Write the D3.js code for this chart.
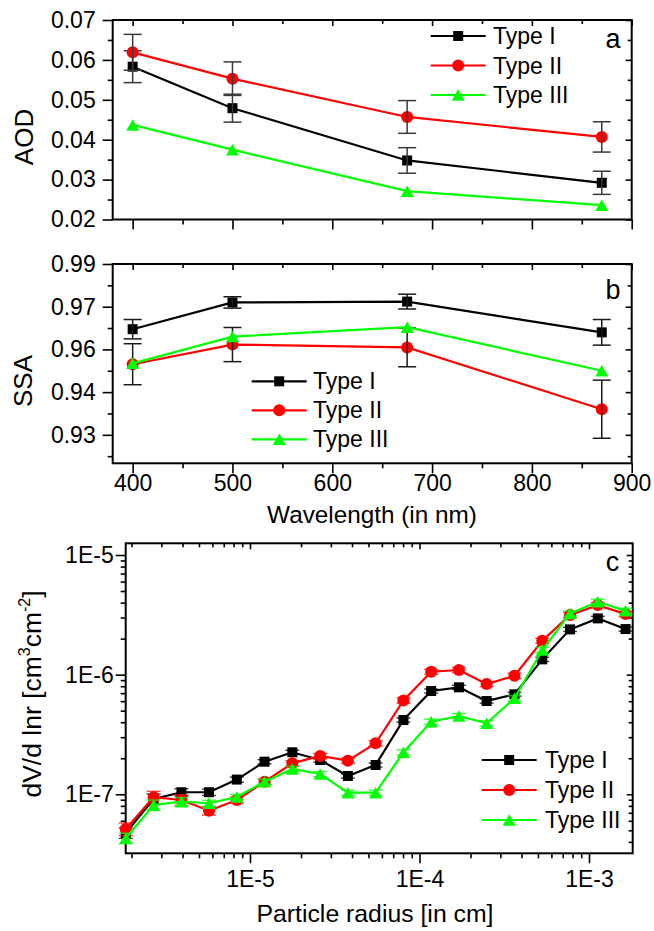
<!DOCTYPE html>
<html><head><meta charset="utf-8">
<script src="https://cdn.jsdelivr.net/npm/d3@7"></script>
<style>
body{margin:0;background:#fff}
svg{display:block}
text{font-family:"Liberation Sans",Arial,Helvetica,sans-serif;fill:#000}
</style>
</head><body>
<svg id="chart" width="654" height="931"></svg>
<script>
// ---------------- DATA ----------------
const seriesNames = ["Type I", "Type II", "Type III"];
const seriesColors = ["#000000", "#ff0000", "#00ff00"];
const seriesShapes = ["square", "circle", "triangle"];

const wavelengths = [400, 500, 675, 870];

const aodTypeI   = [0.0583, 0.0479, 0.0348, 0.0292];
const aodTypeII  = [0.0619, 0.0553, 0.0457, 0.0407];
const aodTypeIII = [0.0437, 0.0375, 0.0271, 0.0236];
const aodErrI    = [0.0040, 0.0035, 0.0032, 0.0029];
const aodErrII   = [0.0045, 0.0042, 0.0041, 0.0038];
const aodErrIII  = [0, 0, 0, 0];

const ssaTypeI   = [0.9671, 0.9765, 0.9768, 0.9660];
const ssaTypeII  = [0.9548, 0.9617, 0.9607, 0.9390];
const ssaTypeIII = [0.9551, 0.9645, 0.9678, 0.9525];
const ssaErrI    = [0.0034, 0.0020, 0.0026, 0.0045];
const ssaErrII   = [0.0072, 0.0060, 0.0068, 0.0102];
const ssaErrIII  = [0, 0, 0, 0];

const radius = [1.85e-6, 2.70e-6, 3.94e-6, 5.73e-6, 8.36e-6, 1.219e-5, 1.778e-5, 2.594e-5, 3.78e-5, 5.51e-5,
                8.04e-5, 1.172e-4, 1.709e-4, 2.49e-4, 3.634e-4, 5.30e-4, 7.73e-4, 1.127e-3, 1.643e-3];
const dvTypeI   = [4.75e-8, 9.13e-8, 1.04e-7, 1.04e-7, 1.327e-7, 1.872e-7, 2.243e-7, 1.934e-7, 1.422e-7, 1.757e-7,
                   4.175e-7, 7.295e-7, 7.834e-7, 6.018e-7, 6.845e-7, 1.342e-6, 2.39e-6, 2.953e-6, 2.404e-6];
const dvTypeII  = [5.13e-8, 9.44e-8, 8.96e-8, 7.29e-8, 8.96e-8, 1.274e-7, 1.815e-7, 2.089e-7, 1.909e-7, 2.668e-7,
                   6.09e-7, 1.057e-6, 1.093e-6, 8.35e-7, 9.79e-7, 1.92e-6, 3.147e-6, 3.814e-6, 3.208e-6];
const dvTypeIII = [4.29e-8, 8.14e-8, 8.67e-8, 8.41e-8, 9.49e-8, 1.274e-7, 1.627e-7, 1.477e-7, 1.031e-7, 1.031e-7,
                   2.243e-7, 4.04e-7, 4.51e-7, 3.92e-7, 6.34e-7, 1.606e-6, 3.25e-6, 4.06e-6, 3.418e-6];
// relative (fractional) error of the size distribution
const dvErrI   = [0.10, 0.10, 0.07, 0.06, 0.05, 0.04, 0.04, 0.04, 0.04, 0.04, 0.04, 0.04, 0.04, 0.04, 0.04, 0.04, 0.04, 0.04, 0.04];
const dvErrII  = [0.12, 0.12, 0.10, 0.08, 0.06, 0.05, 0.05, 0.05, 0.05, 0.05, 0.05, 0.05, 0.05, 0.05, 0.05, 0.05, 0.05, 0.05, 0.05];
const dvErrIII = [0.10, 0.10, 0.08, 0.06, 0.05, 0.05, 0.05, 0.05, 0.05, 0.05, 0.05, 0.05, 0.05, 0.05, 0.05, 0.05, 0.05, 0.05, 0.05];

const wlTicks = [400, 500, 600, 700, 800, 900];
const wlMinor = [450, 550, 650, 750, 850];
const aodTicks = [0.02, 0.03, 0.04, 0.05, 0.06, 0.07];
const aodMinor = [0.025, 0.035, 0.045, 0.055, 0.065];
const ssaTicks = [0.93, 0.945, 0.96, 0.975, 0.99];
const ssaTickLabels = ["0.93", "0.94", "0.96", "0.97", "0.99"];
const ssaMinor = [0.9225, 0.9375, 0.9525, 0.9675, 0.9825];
const radTicks = [1e-5, 1e-4, 1e-3];
const radTickLabels = ["1E-5", "1E-4", "1E-3"];
const dvTicks = [1e-7, 1e-6, 1e-5];
const dvTickLabels = ["1E-7", "1E-6", "1E-5"];

// ---------------- DRAW ----------------
const svg = d3.select("#chart");
const FONT = 23;

function minorLog(domain) {
  const out = [];
  const lo = Math.floor(Math.log10(domain[0])), hi = Math.ceil(Math.log10(domain[1]));
  for (let e = lo; e <= hi; e++) for (let m = 2; m <= 9; m++) {
    const v = m * Math.pow(10, e);
    if (v >= domain[0] && v <= domain[1]) out.push(v);
  }
  return out;
}

function drawFrame(x, y, o) {
  const [xl, xr] = x.range();
  const [yb, yt] = y.range();
  const g = svg.append("g");
  const style = sel => { sel.select(".domain").remove(); sel.selectAll("line").attr("stroke", "#000").attr("stroke-width", 1.6); };
  const b = g.append("g").attr("transform", `translate(0,${yb})`)
    .call(d3.axisBottom(x).tickValues(o.xMajor).tickSize(10).tickPadding(o.xPad)
      .tickFormat(o.xLabels ? ((d, i) => o.xLabels[i]) : () => ""));
  style(b);
  b.selectAll("text").attr("font-size", FONT).attr("font-family", "Liberation Sans, Arial, sans-serif").attr("fill", "#000");
  const bm = g.append("g").attr("transform", `translate(0,${yb})`)
    .call(d3.axisBottom(x).tickValues(o.xMinor).tickSize(5).tickFormat(() => ""));
  style(bm);
  const t = g.append("g").attr("transform", `translate(0,${yt})`)
    .call(d3.axisTop(x).tickValues(o.xMajor).tickSize(-6).tickFormat(() => ""));
  style(t);
  const tm = g.append("g").attr("transform", `translate(0,${yt})`)
    .call(d3.axisTop(x).tickValues(o.xMinor).tickSize(-4).tickFormat(() => ""));
  style(tm);
  const l = g.append("g").attr("transform", `translate(${xl},0)`)
    .call(d3.axisLeft(y).tickValues(o.yMajor).tickSize(10).tickPadding(o.yPad)
      .tickFormat((d, i) => o.yLabels[i]));
  style(l);
  l.selectAll("text").attr("font-size", FONT).attr("font-family", "Liberation Sans, Arial, sans-serif").attr("fill", "#000");
  const lm = g.append("g").attr("transform", `translate(${xl},0)`)
    .call(d3.axisLeft(y).tickValues(o.yMinor).tickSize(5).tickFormat(() => ""));
  style(lm);
  const r = g.append("g").attr("transform", `translate(${xr},0)`)
    .call(d3.axisRight(y).tickValues(o.yMajor).tickSize(-6).tickFormat(() => ""));
  style(r);
  const rm = g.append("g").attr("transform", `translate(${xr},0)`)
    .call(d3.axisRight(y).tickValues(o.yMinor).tickSize(-4).tickFormat(() => ""));
  style(rm);
  g.append("rect").attr("x", xl).attr("y", yt).attr("width", xr - xl).attr("height", yb - yt)
    .attr("fill", "none").attr("stroke", "#000").attr("stroke-width", 2);
}

function marker(g, shape, cx, cy, color, s) {
  if (shape === "square") {
    g.append("rect").attr("x", cx - s / 2).attr("y", cy - s / 2).attr("width", s).attr("height", s).attr("fill", color);
  } else if (shape === "circle") {
    g.append("circle").attr("cx", cx).attr("cy", cy).attr("r", s * 0.6).attr("fill", color);
  } else {
    const w = s * 1.3, h = s * 1.15;
    g.append("path").attr("d", `M${cx},${cy - h / 2}L${cx + w / 2},${cy + h / 2}L${cx - w / 2},${cy + h / 2}Z`).attr("fill", color);
  }
}

function drawSeries(x, y, xs, ys, errs, k, o) {
  const g = svg.append("g");
  const line = d3.line().x((d, i) => x(xs[i])).y(d => y(d));
  g.append("path").attr("d", line(ys)).attr("fill", "none").attr("stroke", seriesColors[k]).attr("stroke-width", 2.2);
  ys.forEach((v, i) => marker(g, seriesShapes[k], x(xs[i]), y(v), seriesColors[k], o.ms));
  ys.forEach((v, i) => {
    const e = errs[i];
    if (!e) return;
    const lo = o.rel ? v * (1 - e) : v - e;
    const hi = o.rel ? v * (1 + e) : v + e;
    const cx = x(xs[i]);
    const col = o.errColor || seriesColors[k];
    g.append("line").attr("x1", cx).attr("x2", cx).attr("y1", y(lo)).attr("y2", y(hi))
      .attr("stroke", col).attr("stroke-width", o.ew).attr("opacity", o.eo || 1);
    [lo, hi].forEach(val => g.append("line").attr("x1", cx - o.cap).attr("x2", cx + o.cap)
      .attr("y1", y(val)).attr("y2", y(val)).attr("stroke", col).attr("stroke-width", o.ew).attr("opacity", o.eo || 1));
  });
}

function legend(lx0, lx1, tx, rows, ms) {
  const g = svg.append("g");
  seriesNames.forEach((n, k) => {
    const yy = rows[k];
    g.append("line").attr("x1", lx0).attr("x2", lx1).attr("y1", yy).attr("y2", yy)
      .attr("stroke", seriesColors[k]).attr("stroke-width", 2.2);
    marker(g, seriesShapes[k], (lx0 + lx1) / 2, yy, seriesColors[k], ms);
    g.append("text").attr("x", tx).attr("y", yy + 8).attr("font-size", FONT).text(n);
  });
}

// ---- Panel a ----
const xa = d3.scaleLinear().domain([380, 900]).range([112.7, 631.7]);
const ya = d3.scaleLinear().domain([0.02, 0.07]).range([219.5, 20]);
drawFrame(xa, ya, {xMajor: wlTicks, xMinor: wlMinor, xLabels: null, xPad: 2,
  yMajor: aodTicks, yMinor: aodMinor, yLabels: aodTicks.map(d3.format(".2f")), yPad: 7});
[[aodTypeI, aodErrI], [aodTypeII, aodErrII], [aodTypeIII, aodErrIII]].forEach(([v, e], k) =>
  drawSeries(xa, ya, wavelengths, v, e, k, {ms: 10, cap: 9, ew: 1.5, errColor: "#3a3a3a"}));
legend(430.7, 485.7, 493, [36, 65.5, 95], 10);
svg.append("text").attr("x", 613).attr("y", 48).attr("text-anchor", "middle").attr("font-size", 27).text("a");
svg.append("text").attr("transform", "translate(33,137) rotate(-90)").attr("text-anchor", "middle").attr("font-size", 26).text("AOD");

// ---- Panel b ----
const xb = d3.scaleLinear().domain([380, 900]).range([112.7, 631.7]);
const yb = d3.scaleLinear().domain([0.92, 0.99]).range([463.3, 264]);
drawFrame(xb, yb, {xMajor: wlTicks, xMinor: wlMinor, xLabels: wlTicks.map(String), xPad: 1,
  yMajor: ssaTicks, yMinor: ssaMinor, yLabels: ssaTickLabels, yPad: 7});
[[ssaTypeI, ssaErrI], [ssaTypeII, ssaErrII], [ssaTypeIII, ssaErrIII]].forEach(([v, e], k) =>
  drawSeries(xb, yb, wavelengths, v, e, k, {ms: 10, cap: 9, ew: 1.5, errColor: "#1a1a1a"}));
legend(251.7, 306.7, 313, [381.3, 410.3, 439.3], 10);
svg.append("text").attr("x", 613).attr("y", 299).attr("text-anchor", "middle").attr("font-size", 27).text("b");
svg.append("text").attr("transform", "translate(32,381) rotate(-90)").attr("text-anchor", "middle").attr("font-size", 26).text("SSA");
svg.append("text").attr("x", 372).attr("y", 523).attr("text-anchor", "middle").attr("font-size", 24.3).text("Wavelength (in nm)");

// ---- Panel c ----
const xc = d3.scaleLog().domain([1.848e-6, 1.811e-3]).range([125.7, 632.7]);
const yc = d3.scaleLog().domain([3.21e-8, 1.253e-5]).range([853.3, 543.3]);
drawFrame(xc, yc, {xMajor: radTicks, xMinor: minorLog(xc.domain()), xLabels: radTickLabels, xPad: 7,
  yMajor: dvTicks, yMinor: minorLog(yc.domain()), yLabels: dvTickLabels, yPad: 2});
[[dvTypeI, dvErrI], [dvTypeII, dvErrII], [dvTypeIII, dvErrIII]].forEach(([v, e], k) =>
  drawSeries(xc, yc, radius, v, e, k, {ms: 10, cap: 7, ew: 1.4, rel: true, eo: 0.75}));
legend(481.7, 536.7, 545, [760, 790, 820], 10);
svg.append("text").attr("x", 612.5).attr("y", 570.7).attr("text-anchor", "middle").attr("font-size", 27).text("c");
const yt = svg.append("text").attr("transform", "translate(41,694) rotate(-90)").attr("text-anchor", "middle").attr("font-size", 26.5);
yt.append("tspan").text("dV/d lnr [cm");
yt.append("tspan").attr("font-size", 16).attr("dy", -11).text("3");
yt.append("tspan").attr("dy", 11).text("cm");
yt.append("tspan").attr("font-size", 16).attr("dy", -11).text("-2");
yt.append("tspan").attr("dy", 11).text("]");
svg.append("text").attr("x", 375).attr("y", 922).attr("text-anchor", "middle").attr("font-size", 24.8).text("Particle radius [in cm]");
</script>
</body></html>
